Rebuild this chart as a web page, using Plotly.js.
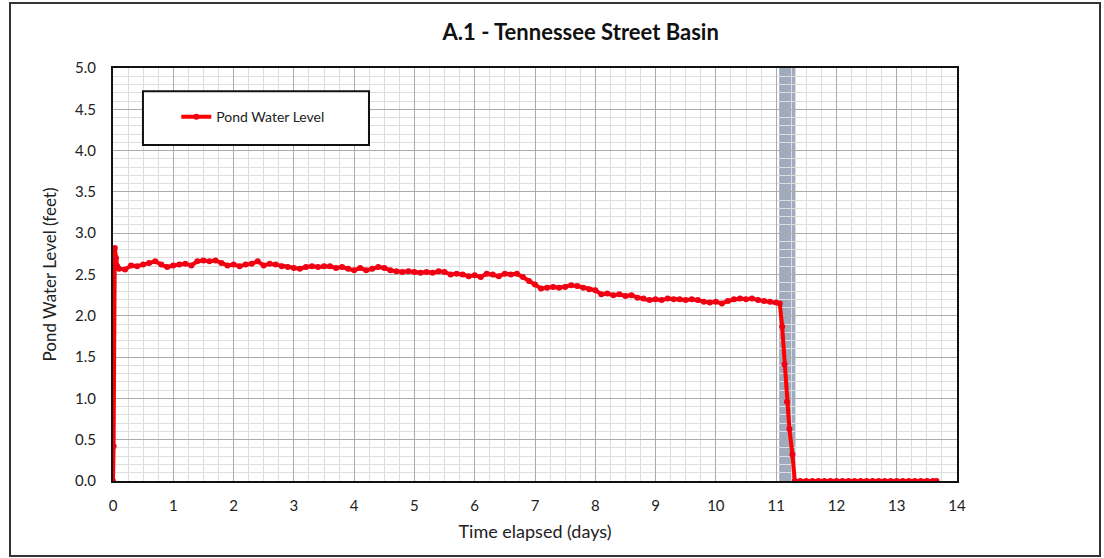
<!DOCTYPE html>
<html>
<head>
<meta charset="utf-8">
<script src="https://cdn.plot.ly/plotly-3.0.1.min.js"></script>
<style>
  html, body { margin: 0; padding: 0; background: #fff; }
  #wrap { position: relative; width: 1104px; height: 558px; }
  #frame { position: absolute; left: 9px; top: 2px; width: 1088px; height: 551px; border: 2px solid #333; pointer-events: none; }
  #chart { position: absolute; left: 0; top: 0; width: 1104px; height: 558px; }
</style>
</head>
<body>
<div id="wrap">
  <div id="chart"></div>
  <div id="frame"></div>
</div>
<script>
// Time elapsed (days)
const timeDays = [
  0.00, 0.01, 0.03, 0.05, 0.07,
  0.1, 0.2, 0.3, 0.4, 0.5, 0.6, 0.7, 0.8, 0.9, 1.0,
  1.1, 1.2, 1.3, 1.4, 1.5, 1.6, 1.7, 1.8, 1.9, 2.0,
  2.1, 2.2, 2.3, 2.4, 2.5, 2.6, 2.7, 2.8, 2.9, 3.0,
  3.1, 3.2, 3.3, 3.4, 3.5, 3.6, 3.7, 3.8, 3.9, 4.0,
  4.1, 4.2, 4.3, 4.4, 4.5, 4.6, 4.7, 4.8, 4.9, 5.0,
  5.1, 5.2, 5.3, 5.4, 5.5, 5.6, 5.7, 5.8, 5.9, 6.0,
  6.1, 6.2, 6.3, 6.4, 6.5, 6.6, 6.7, 6.8, 6.9, 7.0,
  7.1, 7.2, 7.3, 7.4, 7.5, 7.6, 7.7, 7.8, 7.9, 8.0,
  8.1, 8.2, 8.3, 8.4, 8.5, 8.6, 8.7, 8.8, 8.9, 9.0,
  9.1, 9.2, 9.3, 9.4, 9.5, 9.6, 9.7, 9.8, 9.9, 10.0,
  10.1, 10.2, 10.3, 10.4, 10.5, 10.6, 10.7, 10.8, 10.9, 11.0,
  11.06, 11.10, 11.14, 11.18, 11.22, 11.27, 11.31,
  11.4, 11.5, 11.6, 11.7, 11.8, 11.9, 12.0, 12.1, 12.2, 12.3,
  12.4, 12.5, 12.6, 12.7, 12.8, 12.9, 13.0, 13.1, 13.2, 13.3,
  13.4, 13.5, 13.6, 13.66
];
// Pond water level (feet)
const waterLevel = [
  0.00, 0.42, 2.82, 2.70, 2.60,
  2.57, 2.56, 2.61, 2.60, 2.62, 2.64, 2.66, 2.62, 2.59, 2.61,
  2.62, 2.63, 2.61, 2.66, 2.67, 2.66, 2.67, 2.64, 2.61, 2.62,
  2.60, 2.62, 2.63, 2.66, 2.61, 2.63, 2.62, 2.60, 2.59, 2.58,
  2.57, 2.59, 2.60, 2.59, 2.60, 2.60, 2.58, 2.59, 2.57, 2.55,
  2.58, 2.55, 2.57, 2.59, 2.58, 2.55, 2.54, 2.53, 2.54, 2.53,
  2.52, 2.53, 2.52, 2.54, 2.53, 2.50, 2.51, 2.50, 2.48, 2.49,
  2.47, 2.51, 2.50, 2.48, 2.51, 2.50, 2.51, 2.47, 2.42, 2.38,
  2.33, 2.34, 2.35, 2.34, 2.35, 2.37, 2.36, 2.34, 2.32, 2.31,
  2.26, 2.27, 2.25, 2.26, 2.24, 2.25, 2.22, 2.21, 2.19, 2.20,
  2.19, 2.21, 2.20, 2.20, 2.19, 2.20, 2.19, 2.17, 2.16, 2.17,
  2.15, 2.18, 2.20, 2.21, 2.20, 2.21, 2.19, 2.18, 2.17, 2.16,
  2.15, 1.87, 1.41, 0.96, 0.63, 0.32, 0.00,
  0.00, 0.00, 0.00, 0.00, 0.00, 0.00, 0.00, 0.00, 0.00, 0.00,
  0.00, 0.00, 0.00, 0.00, 0.00, 0.00, 0.00, 0.00, 0.00, 0.00,
  0.00, 0.00, 0.00, 0.00
];
const seriesName = 'Pond Water Level';
const chartTitle = 'A.1 - Tennessee Street Basin';
const xTitle = 'Time elapsed (days)';
const yTitle = 'Pond Water Level (feet)';
const bandStart = 11.05;
const bandEnd = 11.32;

const FONT = 'Lato, "Open Sans", sans-serif';

const trace = {
  x: timeDays,
  y: waterLevel,
  type: 'scatter',
  mode: 'lines+markers',
  name: seriesName,
  line: { color: '#ff0000', width: 4 },
  marker: { color: '#f00014', size: 6 },
  showlegend: true
};

const layout = {
  width: 1104,
  height: 558,
  margin: { l: 113, r: 147, t: 68, b: 77 },
  paper_bgcolor: '#ffffff',
  plot_bgcolor: '#ffffff',
  font: { family: FONT, color: '#222', size: 15 },
  title: {
    text: '<b>' + chartTitle + '</b>',
    font: { family: FONT, size: 22, color: '#111' },
    xref: 'container', x: 0.526, xanchor: 'center',
    yref: 'container', y: 0.943, yanchor: 'middle'
  },
  xaxis: {
    range: [0, 14],
    dtick: 1,
    tick0: 0,
    showgrid: true,
    gridcolor: '#ababab',
    gridwidth: 1,
    minor: { dtick: 0.25, showgrid: true, gridcolor: '#dedede', gridwidth: 1 },
    zeroline: false,
    showline: true,
    linecolor: '#111',
    linewidth: 2,
    mirror: true,
    ticks: '',
    ticklabelstandoff: 10,
    tickfont: { family: FONT, size: 15, color: '#222' },
    title: { text: xTitle, font: { family: FONT, size: 18, color: '#222' }, standoff: 12 }
  },
  yaxis: {
    range: [0, 5],
    dtick: 0.5,
    tick0: 0,
    tickformat: '.1f',
    showgrid: true,
    gridcolor: '#ababab',
    gridwidth: 1,
    minor: { dtick: 0.1, showgrid: true, gridcolor: '#dedede', gridwidth: 1 },
    zeroline: false,
    showline: true,
    linecolor: '#111',
    linewidth: 2,
    mirror: true,
    ticks: '',
    ticklabelstandoff: 12,
    tickfont: { family: FONT, size: 15, color: '#222' },
    title: { text: yTitle, font: { family: FONT, size: 17, color: '#222' }, standoff: 14 }
  },
  shapes: [
    {
      type: 'rect', xref: 'x', yref: 'paper',
      x0: bandStart, x1: bandEnd, y0: 0, y1: 1,
      fillcolor: 'rgba(120,135,162,0.7)', line: { width: 0 }, layer: 'between'
    },
    {
      type: 'rect', xref: 'paper', yref: 'paper',
      x0: 0.0355, x1: 0.3033, y0: 0.8136, y1: 0.944,
      fillcolor: '#ffffff', line: { color: '#111', width: 2 }, layer: 'above'
    }
  ],
  legend: {
    x: 0.075, xanchor: 'left',
    y: 0.881, yanchor: 'middle',
    bgcolor: 'rgba(0,0,0,0)',
    borderwidth: 0,
    font: { family: FONT, size: 14, color: '#222' }
  },
  showlegend: true
};

Plotly.newPlot('chart', [trace], layout, { displayModeBar: false, staticPlot: true });
</script>
</body>
</html>
